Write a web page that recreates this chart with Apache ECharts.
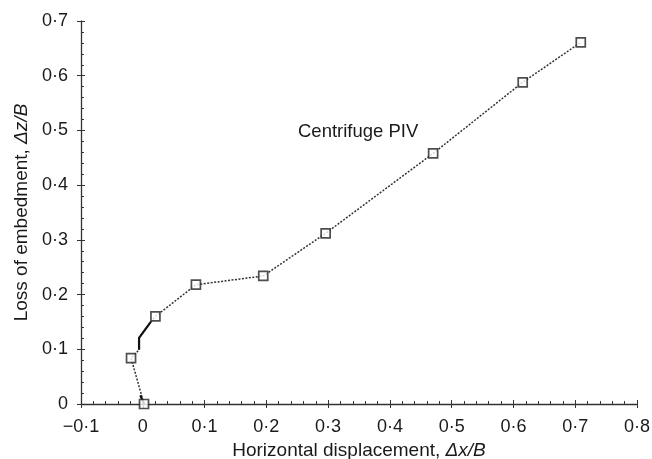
<!DOCTYPE html>
<html><head><meta charset="utf-8">
<script src="https://cdn.jsdelivr.net/npm/echarts@6/dist/echarts.min.js"></script>
<style>html,body{margin:0;padding:0;background:#fff}#c{width:652px;height:459px}</style>
</head><body><div id="c"></div>
<script>
// Measured points (Δx/B, Δz/B)
const dispX = [0.002, -0.019, 0.0205, 0.086, 0.195, 0.296, 0.470, 0.615, 0.709];
const embedZ = [0.0, 0.084, 0.160, 0.218, 0.234, 0.312, 0.458, 0.588, 0.661];
// Traced path between markers (including kink between 2nd and 3rd points)
const pathX = [0.002, -0.019, -0.006, -0.006, 0.013, 0.0205, 0.086, 0.195, 0.296, 0.470, 0.615, 0.709];
const pathZ = [0.0, 0.084, 0.099, 0.121, 0.150, 0.160, 0.218, 0.234, 0.312, 0.458, 0.588, 0.661];
// Solid (heavier) segments of the trace
const solidAX = [-0.006, -0.006, 0.013];
const solidAZ = [0.099, 0.121, 0.150];
const solidBX = [-0.004, 0.002];
const solidBZ = [0.016, 0.0];
const xTicks = {min: -0.1, max: 0.8, step: 0.1};
const yTicks = {min: 0, max: 0.7, step: 0.1};
const seriesLabel = 'Centrifuge PIV';

const zip = (a, b) => a.map((v, i) => [v, b[i]]);
const fmt = v => {
  if (Math.abs(v) < 1e-9) return '0';
  return (v < 0 ? '\u2212' : '') + Math.abs(v).toFixed(1).replace('.', '\u00b7');
};
const FONT = 'Liberation Sans, Arial, sans-serif';
const txt = '#1a1a1a';
const TICKFS = 18, TITLEFS = 19;

function xAx(primary) {
  return {
    type: 'value', min: xTicks.min, max: xTicks.max, interval: xTicks.step,
    position: 'bottom',
    name: primary ? 'Horizontal displacement, {i|\u0394x/B}' : '',
    nameLocation: 'middle', nameGap: 34,
    nameTextStyle: {fontFamily: FONT, fontSize: TITLEFS, color: txt,
      rich: {i: {fontFamily: FONT, fontSize: TITLEFS, fontStyle: 'italic', color: txt}}},
    axisLine: {show: primary, onZero: false, lineStyle: {color: '#333', width: 1.3}},
    axisTick: {show: true, inside: !primary, length: 4, lineStyle: {color: '#333', width: 1}},
    minorTick: {show: !primary, splitNumber: 5, length: 3, lineStyle: {color: '#333', width: 1}},
    axisLabel: {show: primary, formatter: fmt, margin: 14, fontFamily: FONT, fontSize: TICKFS, color: txt},
    splitLine: {show: false}
  };
}
function yAx(primary) {
  return {
    type: 'value', min: yTicks.min, max: yTicks.max, interval: yTicks.step,
    position: 'left',
    name: primary ? 'Loss of embedment, {i|\u0394z/B}' : '',
    nameLocation: 'middle', nameGap: 48, nameRotate: 90,
    nameTextStyle: {fontFamily: FONT, fontSize: TITLEFS, color: txt,
      rich: {i: {fontFamily: FONT, fontSize: TITLEFS, fontStyle: 'italic', color: txt}}},
    axisLine: {show: primary, onZero: false, lineStyle: {color: '#333', width: 1.3}},
    axisTick: {show: true, inside: !primary, length: 4, lineStyle: {color: '#333', width: 1}},
    minorTick: {show: !primary, splitNumber: 5, length: 3, lineStyle: {color: '#333', width: 1}},
    axisLabel: {show: primary, formatter: fmt, margin: 13, fontFamily: FONT, fontSize: TICKFS, color: txt},
    splitLine: {show: false}
  };
}

const chart = echarts.init(document.getElementById('c'), null, {renderer: 'canvas'});
chart.setOption({
  backgroundColor: '#fff',
  animation: false,
  grid: {left: 81, right: 15, top: 21, bottom: 55, containLabel: false, outerBoundsMode: 'none'},
  xAxis: [xAx(true), xAx(false)],
  yAxis: [yAx(true), yAx(false)],
  graphic: [{type: 'text', left: 298, top: 122,
    style: {text: seriesLabel, font: '18.5px ' + FONT, fill: txt}}],
  series: [
    {type: 'line', data: zip(pathX, pathZ), showSymbol: false, symbol: 'none',
     lineStyle: {color: '#333', width: 1.5, type: [2, 1.5]}, z: 2},
    {type: 'line', data: zip(solidAX, solidAZ), symbol: 'none',
     lineStyle: {color: '#111', width: 2.2}, z: 3},
    {type: 'line', data: zip(solidBX, solidBZ), symbol: 'none',
     lineStyle: {color: '#111', width: 2.2}, z: 3},
    {type: 'scatter', name: seriesLabel, data: zip(dispX, embedZ), symbol: 'rect', symbolSize: 9,
     itemStyle: {color: '#fff', borderColor: '#222', borderWidth: 1.7}, z: 5}
  ]
});
</script></body></html>
